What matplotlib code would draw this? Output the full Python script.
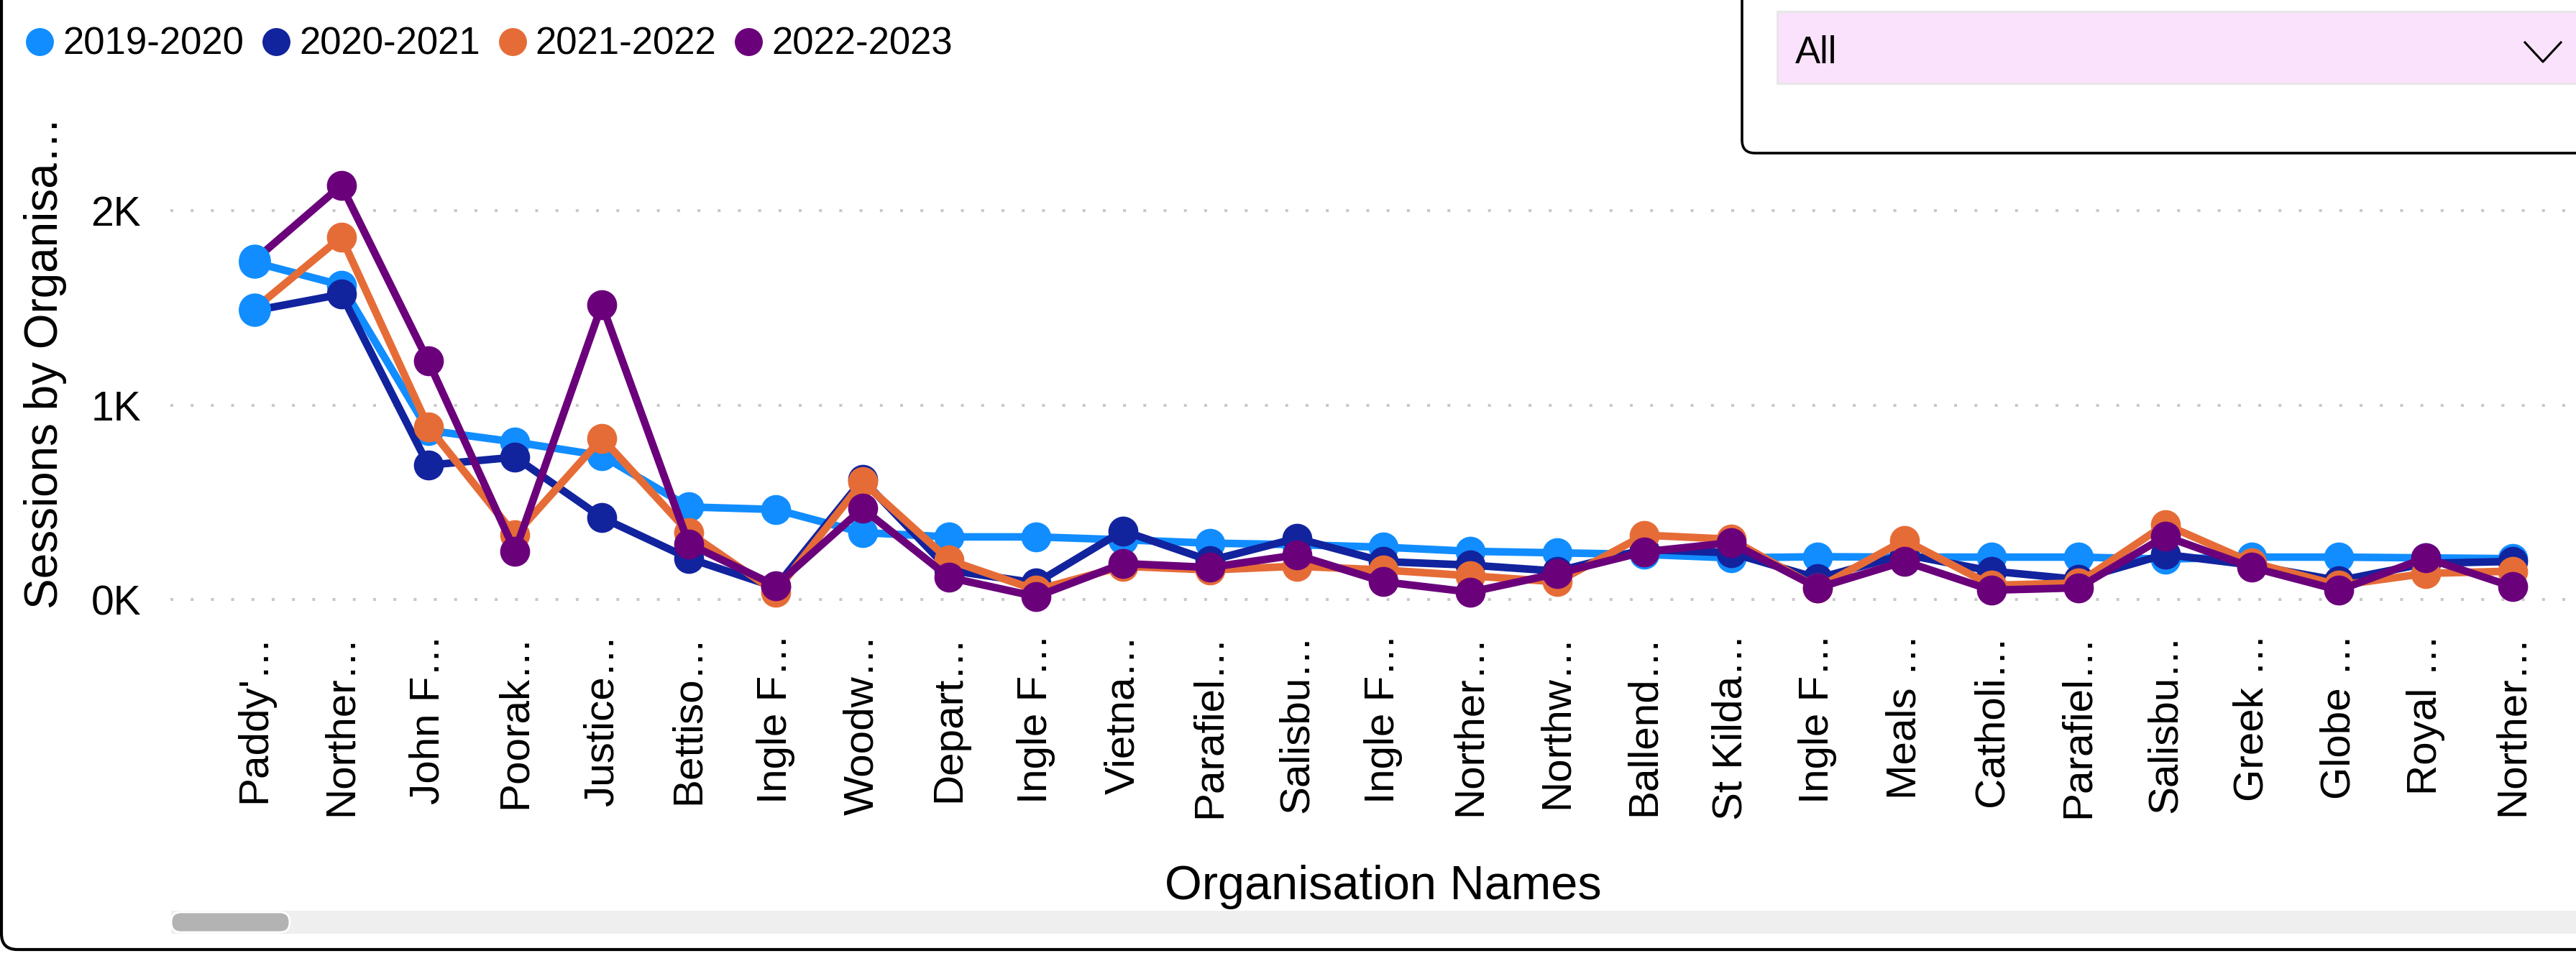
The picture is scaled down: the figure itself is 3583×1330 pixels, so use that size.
import numpy as np
import matplotlib
matplotlib.use('Agg')
import matplotlib.pyplot as plt
from matplotlib.lines import Line2D
from matplotlib.patches import FancyBboxPatch
from matplotlib.transforms import Affine2D

W, H, DPI = 3583, 1330, 100

# data (sessions per organisation, per financial year)
org_names = ["Paddy'…", "Norther…", "John F…", "Poorak…", "Justice…", "Bettiso…",
             "Ingle F…", "Woodw…", "Depart…", "Ingle F…", "Vietna…", "Parafiel…",
             "Salisbu…", "Ingle F…", "Norther…", "Northw…", "Ballend…", "St Kilda…",
             "Ingle F…", "Meals …", "Catholi…", "Parafiel…", "Salisbu…", "Greek …",
             "Globe …", "Royal …", "Norther…"]
years = ['2019-2020', '2020-2021', '2021-2022', '2022-2023']
sessions_1920 = [1734, 1617, 870, 810, 740, 476, 463, 344, 322, 322, 307, 290, 282, 269,
                 248, 240, 232, 214, 220, 218, 218, 218, 208, 218, 218, 214, 210]
sessions_2021 = [1486, 1570, 691, 732, 421, 212, 63, 617, 150, 85, 353, 200, 315, 195,
                 177, 146, 257, 240, 109, 232, 146, 103, 232, 177, 97, 186, 196]
sessions_2122 = [1495, 1864, 889, 332, 830, 344, 38, 605, 202, 49, 171, 152, 171, 152,
                 122, 91, 331, 310, 60, 305, 73, 85, 386, 190, 73, 134, 146]
sessions_2223 = [1745, 2130, 1226, 248, 1517, 286, 71, 468, 113, 15, 185, 165, 229, 91,
                 38, 134, 245, 292, 60, 196, 48, 60, 325, 165, 48, 214, 66]
y_ticks = [0, 1000, 2000]
y_tick_labels = ['0K', '1K', '2K']

colours = ['#118DFF', '#12239E', '#E66C37', '#6B007B']
series = [sessions_1920, sessions_2021, sessions_2122, sessions_2223]

plt.rcParams['font.family'] = ['Liberation Sans', 'DejaVu Sans']

fig = plt.figure(figsize=(W / DPI, H / DPI), dpi=DPI)
fig.patch.set_facecolor('white')
px = Affine2D().scale(1 / DPI) + fig.dpi_scale_trans  # pixel coords, origin bottom-left


def box(x0, y0, x1, y1, **kw):
    # top-down pixel coordinates
    p = FancyBboxPatch((x0, H - y1), x1 - x0, y1 - y0, transform=px, **kw)
    fig.add_artist(p)
    return p


ax = fig.add_axes([237 / W, 1 - 870 / H, 1 - 237 / W, 720 / H])
ax.set_facecolor('none')

x = np.arange(len(org_names))
for i, (vals, c) in enumerate(zip(series, colours)):
    ax.plot(x, vals, color=c, lw=7.6, marker='o', ms=29, zorder=2 + i,
            solid_joinstyle='round', label=years[i])
# first category markers show in the first colour
ax.plot(x[[0, 0, 0, 0]], [s[0] for s in series], 'o', color=colours[0], ms=31, zorder=10)

ax.set_xlim(-0.9685, 26.73)
ax.set_ylim(-133, 2529)
ax.set_xticks(x, org_names, rotation=90, fontsize=42)
ax.set_yticks(y_ticks, y_tick_labels, fontsize=41)
ax.tick_params(axis='x', length=0, pad=8.6)
ax.tick_params(axis='y', length=0, pad=29.5)
for s in ax.spines.values():
    s.set_visible(False)
ax.grid(axis='y', color='#C8C8C8', lw=2.9, linestyle=(0, (1, 6)))
ax.grid(axis='x', visible=False)
ax.set_axisbelow(True)

# axis titles
fig.text(63 / W, 1 - 505 / H, 'Sessions by Organisa…', rotation=90, ha='center',
         va='center', fontsize=46)
fig.text(1924 / W, 1 - 1251 / H, 'Organisation Names', ha='center', va='baseline',
         fontsize=48)

# legend
handles = [Line2D([], [], marker='o', linestyle='none', color=c, markersize=27)
           for c in colours]
fig.legend(handles, years, loc='center left', bbox_to_anchor=(39 / W, 1 - 62 / H),
           ncol=4, frameon=False, fontsize=38, handlelength=0.6, handletextpad=0.31,
           columnspacing=0.55, borderpad=0, borderaxespad=0)

# visual frame, slicer, scrollbar
box(2, -60, W + 60, 1321, boxstyle='round,pad=0,rounding_size=22', fc='none',
    ec='black', lw=3)
box(2423, -60, W + 60, 213, boxstyle='round,pad=0,rounding_size=18', fc='white',
    ec='black', lw=2.6)
box(2472, 16, W + 60, 116, boxstyle='square,pad=0', fc='#FBE2FC', ec='#E6E6E6', lw=2)
fig.text(2497 / W, 1 - 88 / H, 'All', ha='left', va='baseline', fontsize=38)
fig.add_artist(Line2D([3512, 3537, 3562], [H - 59, H - 86, H - 59], transform=px,
                      color='black', lw=2.2))
box(238, 1267, W + 60, 1299, boxstyle='square,pad=0', fc='#EFEFEF', ec='none')
box(238, 1269, 403, 1297, boxstyle='round,pad=0,rounding_size=14', fc='#B3B3B3',
    ec='white', lw=2)

fig.savefig('out.png', dpi=DPI, facecolor='white')
